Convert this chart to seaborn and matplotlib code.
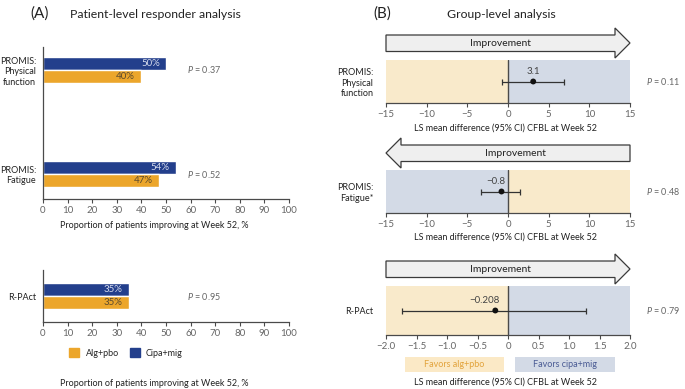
import numpy as np
import pandas as pd
import matplotlib.pyplot as plt
import seaborn as sns
from matplotlib.patches import Patch, Polygon, Rectangle
from matplotlib.transforms import blended_transform_factory

# ---- panel A: responder analysis ----
arms = ["Cipa+mig", "Alg+pbo"]
resp_outcomes = ["PROMIS:\nPhysical\nfunction", "PROMIS:\nFatigue"]
resp_cipa = [50, 54]
resp_alg = [40, 47]
resp_p = ["0.37", "0.52"]
rpact_outcomes = ["R-PAct"]
rpact_cipa = [35]
rpact_alg = [35]
rpact_p = ["0.95"]
pct_ticks = list(range(0, 101, 10))

# ---- panel B: group-level LS mean differences ----
grp_outcomes = ["PROMIS:\nPhysical\nfunction", "PROMIS:\nFatigue*", "R-PAct"]
ls_mean = [3.1, -0.8, -0.208]
ls_labels = ["3.1", "\u22120.8", "\u22120.208"]
ci_low = [-0.7, -3.3, -1.73]
ci_high = [6.9, 1.5, 1.28]
grp_p = ["0.11", "0.48", "0.79"]
grp_lims = [(-15, 15), (-15, 15), (-2, 2)]
grp_ticks = [[-15, -10, -5, 0, 5, 10, 15],
             [-15, -10, -5, 0, 5, 10, 15],
             [-2.0, -1.5, -1.0, -0.5, 0, 0.5, 1.0, 1.5, 2.0]]
grp_ticklabels = [["\u221215", "\u221210", "\u22125", "0", "5", "10", "15"],
                  ["\u221215", "\u221210", "\u22125", "0", "5", "10", "15"],
                  ["\u22122.0", "\u22121.5", "\u22121.0", "\u22120.5", "0", "0.5", "1.0", "1.5", "2.0"]]
arrow_dir = ["right", "left", "right"]

NAVY = "#233f8c"
ORANGE = "#eca62b"
LIGHT_OR = "#f9eacb"
LIGHT_BL = "#d3dae6"
DARK = "#4a4a4a"
GREY = "#666666"

sns.set_theme(style="ticks")
plt.rcParams['font.family'] = ['Lato', 'DejaVu Sans']
plt.rcParams['mathtext.fontset'] = 'custom'
plt.rcParams['mathtext.it'] = 'Lato:italic'
plt.rcParams['mathtext.rm'] = 'Lato'

W, H = 685, 389
fig = plt.figure(figsize=(W / 100, H / 100), dpi=100)


def px_rect(left, top, right, bottom):
    return [left / W, 1 - bottom / H, (right - left) / W, (bottom - top) / H]


def style_axis(ax):
    for s in ax.spines.values():
        s.set_color(DARK)
        s.set_linewidth(0.9)
    ax.tick_params(axis='x', length=3, width=0.8, color=DARK, labelcolor=GREY,
                   labelsize=7, pad=2)
    ax.tick_params(axis='y', length=0, labelsize=6.5, labelcolor="#222222")


def bar_panel(rect, outcomes, cipa, alg, pvals, ylim, label_y):
    ax = fig.add_axes(rect)
    n = len(outcomes)
    df = pd.DataFrame({"outcome": outcomes * 2,
                       "arm": ["Cipa+mig"] * n + ["Alg+pbo"] * n,
                       "pct": cipa + alg})
    sns.barplot(data=df, x="pct", y="outcome", hue="arm", hue_order=arms,
                palette=[NAVY, ORANGE], orient="h", width=0.25, saturation=1,
                legend=False, ax=ax)
    for cont, col in zip(ax.containers, ["#d6dbec", "#5b4a2e"]):
        for p in cont:
            ax.annotate(f"{p.get_width():.0f}%",
                        (p.get_width(), p.get_y() + p.get_height() / 2),
                        xytext=(-4.5, 0), textcoords="offset points",
                        ha="right", va="center", color=col, fontsize=7)
    for i, pv in enumerate(pvals):
        ax.text(58.5, i, f"$P$ = {pv}", va="center", ha="left",
                fontsize=6.5, color=GREY)
    ax.set_xlim(0, 100)
    ax.set_xticks(pct_ticks)
    ax.set_ylim(ylim)
    ax.set_ylabel("")
    ax.set_xlabel("Proportion of patients improving at Week 52, %",
                  fontsize=6.5, color="#222222")
    ax.xaxis.set_label_coords(0.451, label_y)
    sns.despine(ax=ax)
    style_axis(ax)
    ax.tick_params(axis='y', pad=5)
    return ax


axA1 = bar_panel(px_rect(43, 47, 289, 199), resp_outcomes, resp_cipa, resp_alg,
                 resp_p, (1.24, -0.221), -0.145)
axA2 = bar_panel(px_rect(43, 270, 289, 322), rpact_outcomes, rpact_cipa, rpact_alg,
                 rpact_p, (0.25, -0.25), -1.10)

fig.legend(handles=[Patch(color=ORANGE, label="Alg+pbo"),
                    Patch(color=NAVY, label="Cipa+mig")],
           loc="center", bbox_to_anchor=(126 / W, 1 - 353 / H), ncol=2,
           frameon=False, fontsize=6.5, handlelength=1.1, handleheight=1.1,
           columnspacing=1.2, handletextpad=0.7)


def draw_arrow(ax, direction, lo, hi, ax_h):
    per_px = (hi - lo) / 244.0
    head = 15 * per_px
    yb0, yb1 = 1 + 8.5 / ax_h, 1 + 25 / ax_h
    yh0, yh1 = 1 + 2 / ax_h, 1 + 32 / ax_h
    ym = (yh0 + yh1) / 2
    if direction == "right":
        x0, x1 = lo, hi - head
        pts = [(x0, yb0), (x1, yb0), (x1, yh0), (hi, ym), (x1, yh1), (x1, yb1), (x0, yb1)]
    else:
        x0, x1 = lo + head, hi
        pts = [(x1, yb0), (x0, yb0), (x0, yh0), (lo, ym), (x0, yh1), (x0, yb1), (x1, yb1)]
    tr = blended_transform_factory(ax.transData, ax.transAxes)
    ax.add_patch(Polygon(pts, closed=True, transform=tr, facecolor="#efefef",
                         edgecolor="#3a3a3a", lw=0.9, clip_on=False))
    ax.text((x0 + x1) / 2, (yb0 + yb1) / 2, "Improvement", transform=tr,
            ha="center", va="center", fontsize=7.5, color="#222222")


forest_rects = [(386, 60, 630, 103), (386, 170, 630, 213), (386, 286, 630, 335)]
xlabel_y = [-0.488, -0.465, -0.878]

for i, (l, t, r, b) in enumerate(forest_rects):
    ax = fig.add_axes(px_rect(l, t, r, b))
    lo, hi = grp_lims[i]
    if arrow_dir[i] == "right":
        left_col, right_col = LIGHT_OR, LIGHT_BL
    else:
        left_col, right_col = LIGHT_BL, LIGHT_OR
    ax.axvspan(lo, 0, color=left_col, lw=0)
    ax.axvspan(0, hi, color=right_col, lw=0)
    ax.axvline(0, color=DARK, lw=1)
    ax.errorbar(ls_mean[i], 0,
                xerr=[[ls_mean[i] - ci_low[i]], [ci_high[i] - ls_mean[i]]],
                fmt="none", ecolor="#333333", elinewidth=0.9, capsize=2.5,
                capthick=0.9)
    sns.scatterplot(x=[ls_mean[i]], y=[0], color="#111111", s=18,
                    edgecolor="none", ax=ax, zorder=3)
    if ls_mean[i] < 0:
        ax.annotate(ls_labels[i], (ls_mean[i], 0), xytext=(3, 4),
                    textcoords="offset points", ha="right", va="bottom",
                    fontsize=7, color="#444444")
    else:
        ax.annotate(ls_labels[i], (ls_mean[i], 0), xytext=(0, 4),
                    textcoords="offset points", ha="center", va="bottom",
                    fontsize=7, color="#444444")
    ax.set_xlim(lo, hi)
    ax.set_ylim(-1, 1)
    ax.set_xticks(grp_ticks[i], grp_ticklabels[i])
    ax.set_yticks([0], [grp_outcomes[i]])
    sns.despine(ax=ax, left=True)
    style_axis(ax)
    ax.tick_params(axis='y', pad=9)
    ax.set_xlabel("LS mean difference (95% CI) CFBL at Week 52",
                  fontsize=6.5, color="#222222")
    ax.xaxis.set_label_coords(0.49, xlabel_y[i])
    ptr = blended_transform_factory(ax.transAxes, ax.transData)
    ax.text(1.066, 0, f"$P$ = {grp_p[i]}", transform=ptr, ha="left",
            va="center", fontsize=6.5, color=GREY)
    draw_arrow(ax, arrow_dir[i], lo, hi, b - t)
    if i == 2:
        for bx0, bx1, fc, tc, txt in [(0.078, 0.484, "#fbe9c6", "#e2a33c", "Favors alg+pbo"),
                                      (0.529, 0.939, LIGHT_BL, "#4a5b94", "Favors cipa+mig")]:
            ax.add_patch(Rectangle((bx0, -0.755), bx1 - bx0, 0.306,
                                   transform=ax.transAxes, facecolor=fc,
                                   edgecolor="none", clip_on=False))
            ax.text((bx0 + bx1) / 2, -0.602, txt, transform=ax.transAxes,
                    ha="center", va="center", fontsize=6.5, color=tc)

fig.text(40 / W, 1 - 14 / H, "(A)", ha="center", va="center", fontsize=11, color="#222222")
fig.text(155 / W, 1 - 14 / H, "Patient-level responder analysis", ha="center",
         va="center", fontsize=8.8, color="#222222")
fig.text(382 / W, 1 - 14 / H, "(B)", ha="center", va="center", fontsize=11, color="#222222")
fig.text(501 / W, 1 - 14 / H, "Group-level analysis", ha="center",
         va="center", fontsize=8.8, color="#222222")

fig.savefig("out.png", dpi=100)
